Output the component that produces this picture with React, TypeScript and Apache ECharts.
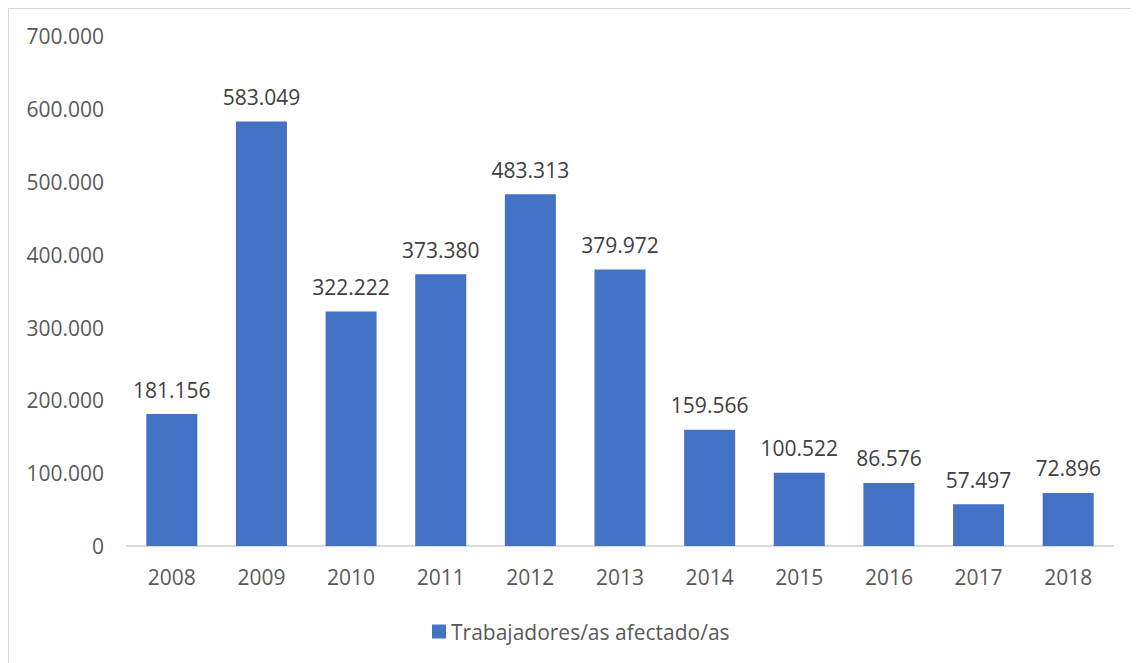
import React, { useEffect, useRef } from "react";
import * as echarts from "echarts";

const categories = ["2008", "2009", "2010", "2011", "2012", "2013", "2014", "2015", "2016", "2017", "2018"];
const values = [181156, 583049, 322222, 373380, 483313, 379972, 159566, 100522, 86576, 57497, 72896];
const seriesName = "Trabajadores/as afectado/as";

const fmt = (v: number) => {
  const s = Math.round(v).toString();
  return s.replace(/\B(?=(\d{3})+(?!\d))/g, ".");
};

const FONT = "'Open Sans', 'Noto Sans', sans-serif";
const TEXT = "#595959";
const FS = 21;

export default function App() {
  const ref = useRef<HTMLDivElement>(null);
  useEffect(() => {
    if (!ref.current) return;
    const chart = echarts.init(ref.current, undefined, { renderer: "svg" });
    chart.setOption({
      animation: false,
      textStyle: { fontFamily: FONT },
      grid: { left: 118, right: 26, top: 27.4, bottom: 117, containLabel: false },
      legend: {
        left: 418,
        top: 607,
        icon: "rect",
        itemWidth: 14,
        itemHeight: 14,
        itemGap: 7,
        textStyle: { color: TEXT, fontSize: FS, fontFamily: FONT },
        data: [seriesName],
      },
      xAxis: {
        type: "category",
        data: categories,
        axisLine: { show: true, lineStyle: { color: "#d9d9d9", width: 2 } },
        axisTick: { show: false },
        axisLabel: { color: TEXT, fontSize: FS, margin: 20, fontFamily: FONT },
      },
      yAxis: {
        type: "value",
        min: 0,
        max: 700000,
        interval: 100000,
        axisLine: { show: false },
        axisTick: { show: false },
        splitLine: { show: false },
        axisLabel: {
          color: TEXT,
          fontSize: FS,
          margin: 23,
          fontFamily: FONT,
          formatter: (v: number) => fmt(v),
        },
      },
      series: [
        {
          name: seriesName,
          type: "bar",
          data: values,
          barWidth: 51,
          itemStyle: { color: "#4472C4" },
          label: {
            show: true,
            position: "top",
            distance: 14,
            color: "#404040",
            fontSize: FS,
            fontFamily: FONT,
            formatter: (p: any) => fmt(p.value),
          },
        },
      ],
    });
    return () => chart.dispose();
  }, []);
  return (
    <div
      style={{
        width: 1130,
        height: 654,
        borderTop: "1px solid #d9d9d9",
        borderLeft: "1px solid #d9d9d9",
        background: "#fff",
      }}
    >
      <div ref={ref} style={{ width: 1130, height: 654 }} />
    </div>
  );
}
